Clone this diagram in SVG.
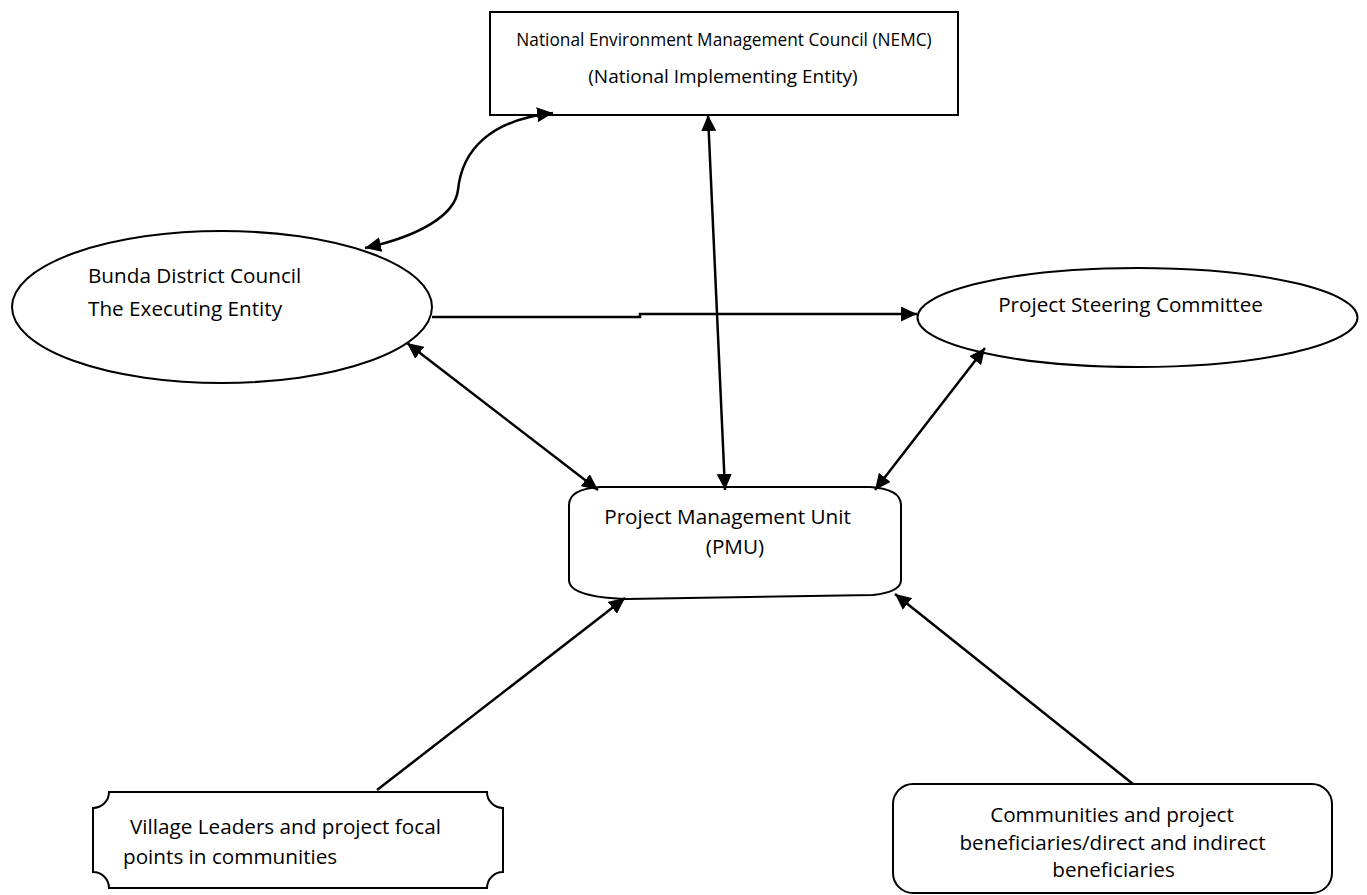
<svg xmlns="http://www.w3.org/2000/svg" width="1367" height="895" viewBox="0 0 1367 895">
<style>
.shape{fill:#fff;stroke:#000;stroke-width:2}
.t{font-family:"Open Sans","Liberation Sans",sans-serif;font-size:20.7px;fill:#000}
.s{font-size:17.3px}
.s2{font-size:19px}
.c{stroke:#000;stroke-width:2.5;fill:none}
</style>
<defs>
<marker id="ah" markerUnits="userSpaceOnUse" markerWidth="17" markerHeight="15" refX="16" refY="7.5" orient="auto-start-reverse" viewBox="0 0 17 15">
<path d="M0,0 L16,7.5 L0,15 Z" fill="#000"/>
</marker>
</defs>
<rect width="1367" height="895" fill="#fff"/>
<g id="nemc">
<rect class="shape" x="490" y="12" width="468" height="103"/>
<text class="t s" x="724" y="46" text-anchor="middle">National Environment Management Council (NEMC)</text>
<text class="t s2" x="723" y="83" text-anchor="middle">(National Implementing Entity)</text>
</g>
<g id="bunda">
<ellipse class="shape" cx="222" cy="307" rx="210" ry="76"/>
<text class="t" x="88" y="283">Bunda District Council</text>
<text class="t" x="88" y="316">The Executing Entity</text>
</g>
<g id="psc">
<ellipse class="shape" cx="1137.5" cy="317.5" rx="220" ry="49.5"/>
<text class="t" x="1130.5" y="312" text-anchor="middle">Project Steering Committee</text>
</g>
<g id="pmu">
<path class="shape" d="M600,487 L870,487 Q901,489 901,505 L901,580 Q901,592 873,595 L627,599 Q569,597 569,580 L569,505 Q569,489 600,487 Z"/>
<text class="t" x="727.5" y="524" text-anchor="middle">Project Management Unit</text>
<text class="t" x="735" y="554" text-anchor="middle">(PMU)</text>
</g>
<g id="village">
<path class="shape" d="M109,792 L487,792 A16,16 0 0 0 503,808 L503,872 A16,16 0 0 0 487,888 L109,888 A16,16 0 0 0 93,872 L93,808 A16,16 0 0 0 109,792 Z"/>
<text class="t" x="130" y="834">Village Leaders and project focal</text>
<text class="t" x="123" y="864">points in communities</text>
</g>
<g id="communities">
<rect class="shape" x="893" y="784" width="439" height="109" rx="20" ry="20"/>
<text class="t" x="1112" y="822" text-anchor="middle">Communities and project</text>
<text class="t" x="1112.5" y="850" text-anchor="middle">beneficiaries/direct and indirect</text>
<text class="t" x="1113.5" y="877" text-anchor="middle">beneficiaries</text>
</g>
<g id="connectors">
<path class="c" d="M365,248 C420,236 455,215 458,190 C462,150 490,120 553,113" marker-start="url(#ah)" marker-end="url(#ah)"/>
<path class="c" d="M708,115 L725,490" marker-start="url(#ah)" marker-end="url(#ah)"/>
<path class="c" d="M432,317 L640,317 L640,314 L917,314" marker-end="url(#ah)"/>
<path class="c" d="M407,343 L598,490" marker-start="url(#ah)" marker-end="url(#ah)"/>
<path class="c" d="M985,348 L875,490" marker-start="url(#ah)" marker-end="url(#ah)"/>
<path class="c" d="M377,790 L625,598" marker-end="url(#ah)"/>
<path class="c" d="M1133,784 L895,594" marker-end="url(#ah)"/>
</g>
</svg>
